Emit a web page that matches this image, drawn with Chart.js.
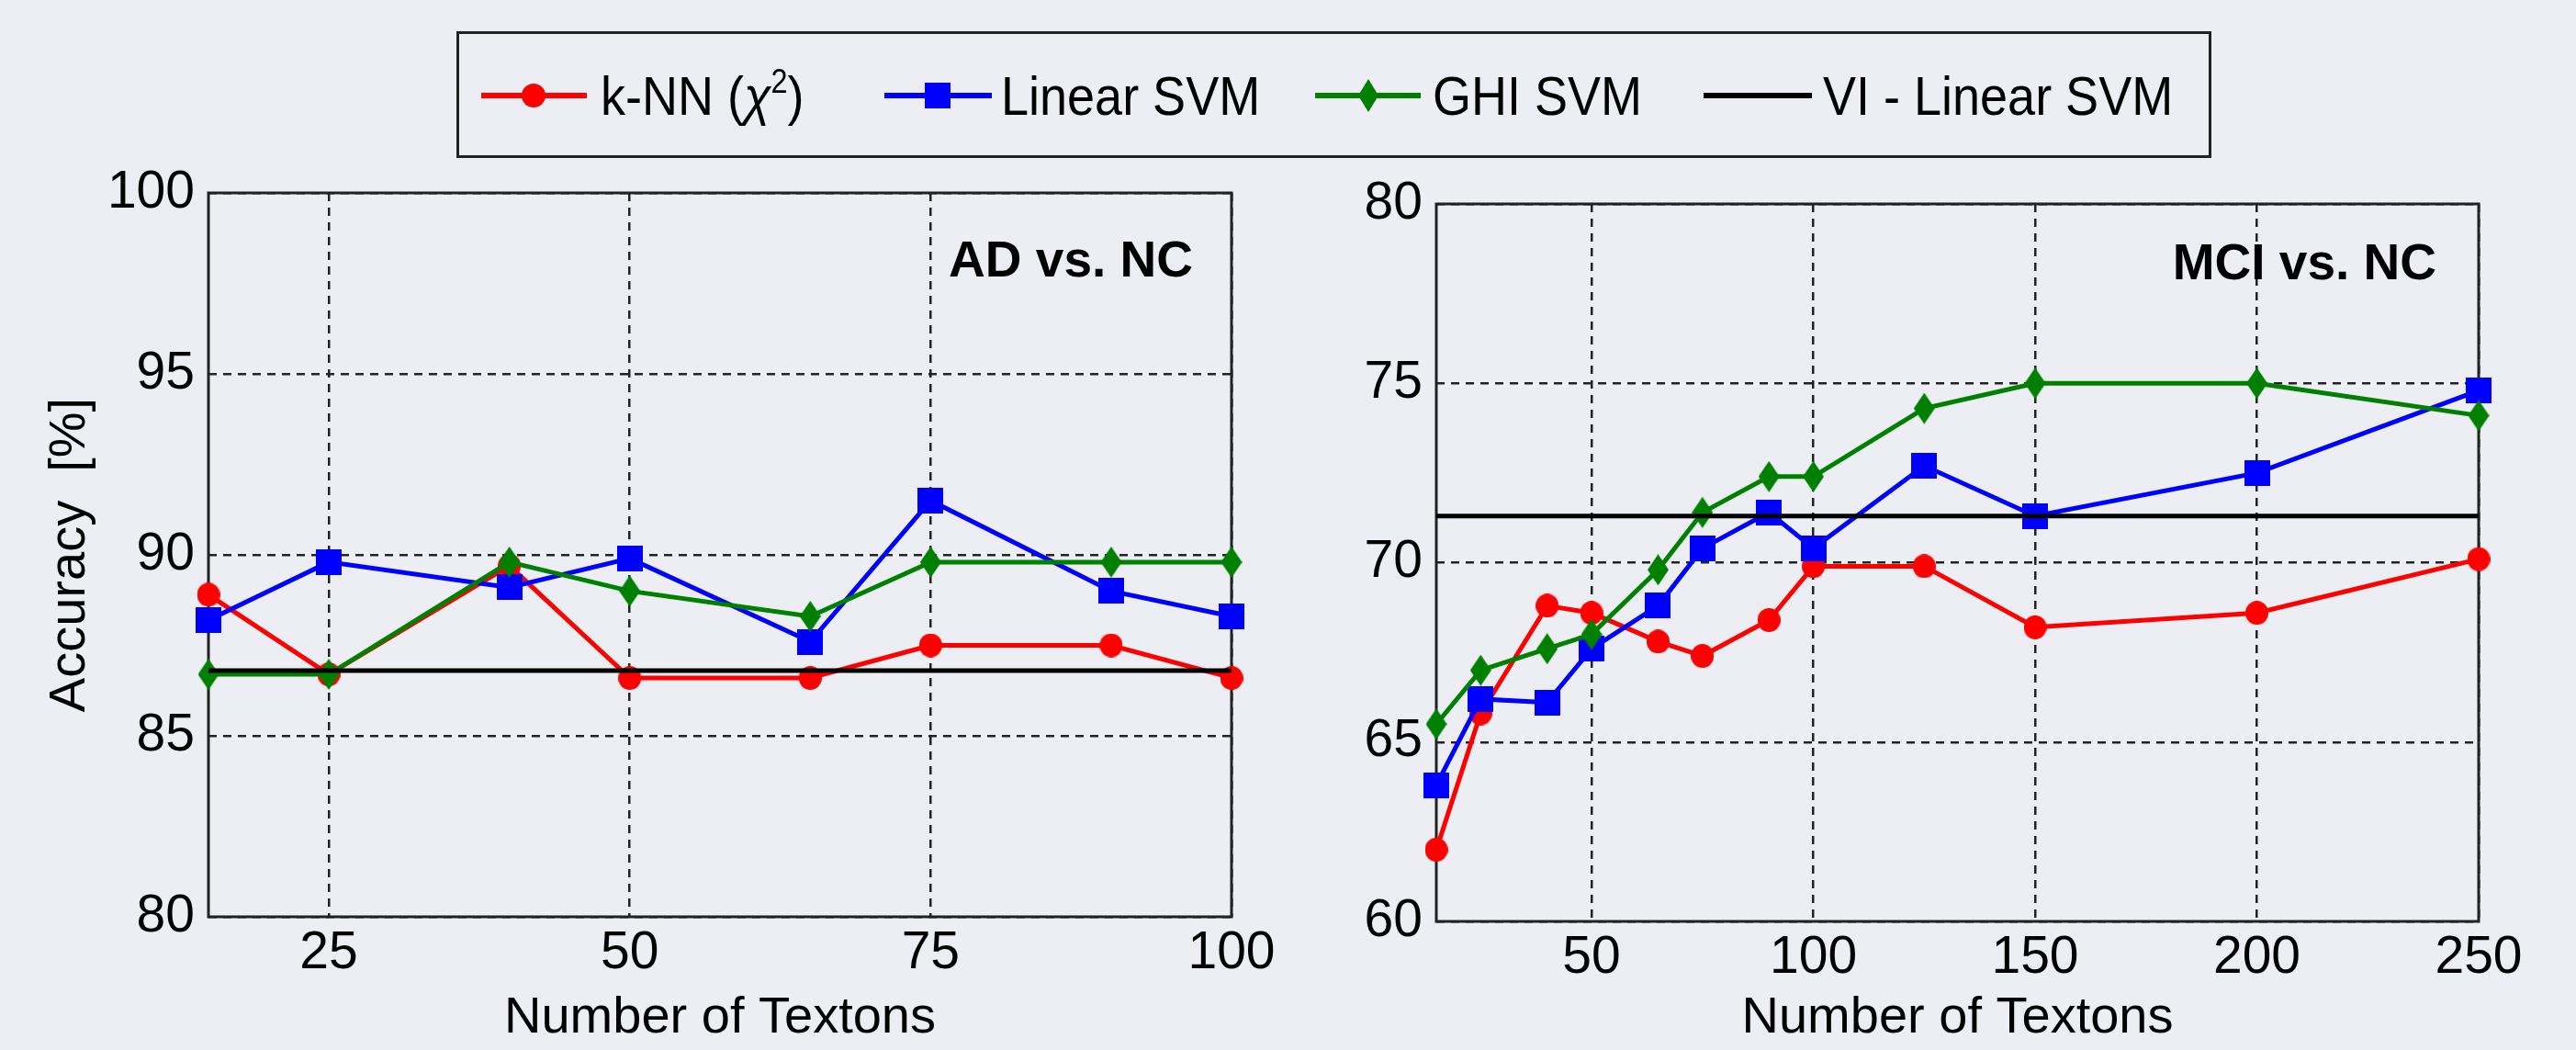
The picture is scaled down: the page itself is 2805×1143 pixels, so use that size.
<!DOCTYPE html>
<html><head><meta charset="utf-8">
<script src="https://cdn.jsdelivr.net/npm/chart.js@4.4.1/dist/chart.umd.min.js"></script>
<style>
html,body{margin:0;padding:0;background:#ECEEF4;}
body{width:2805px;height:1143px;position:relative;overflow:hidden;font-family:'Liberation Sans',Arial,sans-serif;}
#c1{position:absolute;left:0;top:0;}
#c2{position:absolute;left:1400px;top:0;}
#legend{position:absolute;left:497px;top:34px;width:1911px;height:138px;box-sizing:border-box;border:3px solid #222;}
.sw{position:absolute;top:47px;}
.lt{position:absolute;top:38px;font-size:60px;line-height:60px;color:#000;white-space:nowrap;transform:scaleX(0.9);transform-origin:left center;}
.sup{font-size:36px;position:relative;top:-24px;}
</style>
</head><body>
<canvas id="c1" width="1400" height="1143"></canvas>
<canvas id="c2" width="1405" height="1143"></canvas>
<div id="legend">
  <svg class="sw" style="left:24px" width="115" height="40"><line x1="0" y1="20" x2="115" y2="20" stroke="#FF0000" stroke-width="6"/><circle cx="57" cy="20" r="13" fill="#FF0000"/></svg>
  <div class="lt" style="left:154px">k-NN (<i>χ</i><span class="sup">2</span>)</div>
  <svg class="sw" style="left:463px" width="117" height="40"><line x1="0" y1="20" x2="117" y2="20" stroke="#0000FF" stroke-width="6"/><rect x="44" y="6" width="28" height="28" fill="#0000FF"/></svg>
  <div class="lt" style="left:590px">Linear SVM</div>
  <svg class="sw" style="left:932px" width="115" height="40"><line x1="0" y1="20" x2="115" y2="20" stroke="#008000" stroke-width="6"/><polygon points="58,2 69,20 58,38 47,20" fill="#008000"/></svg>
  <div class="lt" style="left:1060px">GHI SVM</div>
  <svg class="sw" style="left:1355px" width="118" height="40"><line x1="0" y1="20" x2="118" y2="20" stroke="#000000" stroke-width="6"/></svg>
  <div class="lt" style="left:1485px">VI - Linear SVM</div>
</div>
<script>
// ---------- data ----------
const xLeft = [15, 25, 40, 50, 65, 75, 90, 100];
const knnLeft = [88.9, 86.7, 89.7, 86.6, 86.6, 87.5, 87.5, 86.6];
const linLeft = [88.2, 89.8, 89.1, 89.9, 87.6, 91.5, 89.0, 88.3];
const ghiLeft = [86.7, 86.7, 89.8, 89.0, 88.3, 89.8, 89.8, 89.8];
const viLeft = 86.8;

const xRight = [15, 25, 40, 50, 65, 75, 90, 100, 125, 150, 200, 250];
const knnRight = [62.0, 65.8, 68.8, 68.6, 67.8, 67.4, 68.4, 69.9, 69.9, 68.2, 68.6, 70.1];
const linRight = [63.8, 66.2, 66.1, 67.6, 68.8, 70.4, 71.4, 70.4, 72.7, 71.3, 72.5, 74.8];
const ghiRight = [65.5, 67.0, 67.6, 68.0, 69.8, 71.4, 72.4, 72.4, 74.3, 75.0, 75.0, 74.1];
const viRight = 71.3;

const xTicksLeft = [25, 50, 75, 100];
const yTicksLeft = [80, 85, 90, 95, 100];
const xTicksRight = [50, 100, 150, 200, 250];
const yTicksRight = [60, 65, 70, 75, 80];

const seriesNames = ['k-NN (χ²)', 'Linear SVM', 'GHI SVM', 'VI - Linear SVM'];
const panelTitles = ['AD vs. NC', 'MCI vs. NC'];
const xTitle = 'Number of Textons';
const yTitle = 'Accuracy  [%]';

// ---------- markers ----------
function marker(kind, color, w, h) {
  const c = document.createElement('canvas');
  c.width = w; c.height = h;
  const g = c.getContext('2d');
  g.fillStyle = color;
  g.beginPath();
  if (kind === 'circle') { g.ellipse(w/2, h/2, w/2, h/2, 0, 0, Math.PI*2); }
  else if (kind === 'square') { g.rect(0, 0, w, h); }
  else { g.moveTo(w/2, 0); g.lineTo(w, h/2); g.lineTo(w/2, h); g.lineTo(0, h/2); g.closePath(); }
  g.fill();
  return c;
}
const mCircle = marker('circle', '#FF0000', 25, 26);
const mSquare = marker('square', '#0000FF', 28, 28);
const mDiamond = marker('diamond', '#008000', 23, 34);

const FONT = "'Liberation Sans', Arial, sans-serif";

const framePlugin = {
  id: 'frame',
  beforeDatasetsDraw(chart) {
    const a = chart.chartArea, ctx = chart.ctx;
    ctx.save();
    ctx.strokeStyle = '#222';
    ctx.lineWidth = 3;
    ctx.strokeRect(a.left, a.top, a.right - a.left, a.bottom - a.top);
    ctx.restore();
  }
};
const annotPlugin = {
  id: 'annot',
  afterDraw(chart, args, opts) {
    const a = chart.chartArea, ctx = chart.ctx;
    ctx.save();
    ctx.font = 'bold 55px ' + FONT;
    ctx.fillStyle = '#000';
    ctx.textAlign = 'right';
    ctx.textBaseline = 'alphabetic';
    ctx.fillText(opts.text, a.right - opts.dx, a.top + opts.dy);
    ctx.restore();
  }
};

function ds(label, xs, ys, color, pt, order) {
  return {
    label, data: xs.map((x, i) => ({x, y: ys[i]})),
    borderColor: color, backgroundColor: color, borderWidth: 5,
    pointStyle: pt, pointRadius: 13, pointHoverRadius: 13,
    tension: 0, clip: false, order
  };
}

function makeChart(id, cfg) {
  const xs = cfg.xs;
  const datasets = [
    ds(seriesNames[0], xs, cfg.knn, '#FF0000', mCircle, 3),
    ds(seriesNames[1], xs, cfg.lin, '#0000FF', mSquare, 2),
    ds(seriesNames[2], xs, cfg.ghi, '#008000', mDiamond, 1),
    {
      label: seriesNames[3],
      data: [{x: xs[0], y: cfg.vi}, {x: xs[xs.length - 1], y: cfg.vi}],
      borderColor: '#000', borderWidth: 5, pointRadius: 0, clip: false, order: 0
    }
  ];
  return new Chart(document.getElementById(id), {
    type: 'line',
    data: {datasets},
    plugins: [framePlugin, annotPlugin],
    options: {
      responsive: false, animation: false, devicePixelRatio: 1,
      events: [],
      layout: {padding: {left: 0, top: cfg.top, right: cfg.right, bottom: 0}},
      plugins: {
        legend: {display: false}, tooltip: {enabled: false},
        annot: {text: cfg.title, dx: cfg.adx, dy: cfg.ady}
      },
      scales: {
        x: {
          type: 'linear', min: cfg.xmin, max: cfg.xmax,
          afterBuildTicks: s => { s.ticks = cfg.xticks.map(v => ({value: v})); },
          afterFit: s => { s.height = cfg.xh; },
          grid: {drawTicks: false, color: '#222', lineWidth: 2.5},
          border: {display: false, dash: [9, 7]},
          ticks: {font: {family: FONT, size: 57}, color: '#000', padding: 6, maxRotation: 0, autoSkip: false},
          title: {display: true, text: xTitle, color: '#000', font: {family: FONT, size: 56}, padding: {top: 0, bottom: 1}}
        },
        y: {
          type: 'linear', min: cfg.ymin, max: cfg.ymax,
          afterBuildTicks: s => { s.ticks = cfg.yticks.map(v => ({value: v})); },
          afterFit: s => { s.width = cfg.yw; },
          grid: {drawTicks: false, color: '#222', lineWidth: 2.5},
          border: {display: false, dash: [9, 7]},
          ticks: {font: {family: FONT, size: 57}, color: '#000', padding: 15, autoSkip: false},
          title: {display: cfg.showY, text: yTitle, color: '#000', font: {family: FONT, size: 56}, padding: {top: 43, bottom: 0}}
        }
      }
    }
  });
}

makeChart('c1', {
  xs: xLeft, knn: knnLeft, lin: linLeft, ghi: ghiLeft, vi: viLeft,
  xmin: 15, xmax: 100, ymin: 80, ymax: 100, xticks: xTicksLeft, yticks: yTicksLeft,
  top: 210, right: 59, xh: 145, yw: 227, showY: true,
  title: panelTitles[0], adx: 42, ady: 91
});
makeChart('c2', {
  xs: xRight, knn: knnRight, lin: linRight, ghi: ghiRight, vi: viRight,
  xmin: 15, xmax: 250, ymin: 60, ymax: 80, xticks: xTicksRight, yticks: yTicksRight,
  top: 222, right: 106, xh: 140, yw: 164, showY: false,
  title: panelTitles[1], adx: 46, ady: 82
});
</script>
</body></html>
